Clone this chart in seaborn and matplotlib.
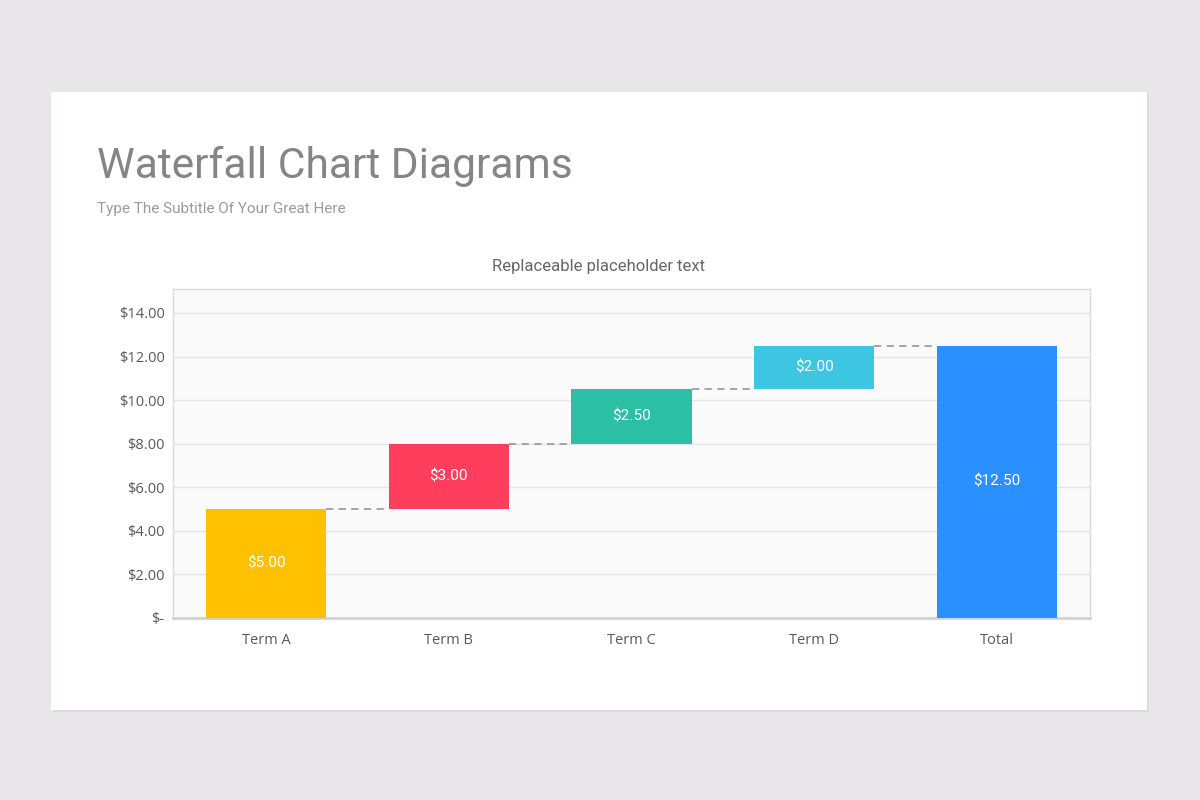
import matplotlib
matplotlib.use("Agg")
import matplotlib.pyplot as plt
from matplotlib.patches import Rectangle
import seaborn as sns
import pandas as pd
import numpy as np

# ---- data ----
categories = ["Term A", "Term B", "Term C", "Term D", "Total"]
values = [5.00, 3.00, 2.50, 2.00, 12.50]
bases = [0.00, 5.00, 8.00, 10.50, 0.00]
bar_colors = ["#FFC000", "#FF3D5D", "#2BBFA6", "#3DC6E2", "#2B90FF"]
ytick_values = [0, 2, 4, 6, 8, 10, 12, 14]
title_text = "Waterfall Chart Diagrams"
subtitle_text = "Type The Subtitle Of Your Great Here"
chart_title = "Replaceable placeholder text"

sns.set_theme(style="white")
plt.rcParams["font.family"] = ["Roboto", "DejaVu Sans"]

fig = plt.figure(figsize=(12, 8), dpi=100)
fig.patch.set_facecolor("#E8E6E8")

# card with faint shadow
fig.add_artist(Rectangle((0.0425 + 0.002, 0.1125 - 0.003), 0.9133, 0.7725,
                         transform=fig.transFigure, facecolor="#DCDADC",
                         edgecolor="none", zorder=0))
fig.add_artist(Rectangle((0.0425, 0.1125), 0.9133, 0.7725,
                         transform=fig.transFigure, facecolor="white",
                         edgecolor="none", zorder=0))

fig.text(97 / 1200, 1 - 178 / 800, title_text, fontsize=30.6, color="#858585",
         family="Roboto", ha="left", va="baseline")
fig.text(97 / 1200, 1 - 213 / 800, subtitle_text, fontsize=11, color="#9A9A9A",
         family="Roboto", ha="left", va="baseline")
fig.text(598 / 1200, 1 - 267 / 800, chart_title, fontsize=12, color="#666666",
         family="Roboto", ha="center", va="center")

ax = fig.add_axes([173 / 1200, 1 - 618 / 800, 917 / 1200, 329 / 800])
ax.set_facecolor("#FAFAFA")

df = pd.DataFrame({"cat": categories, "val": values})
sns.barplot(data=df, x="cat", y="val", hue="cat", palette=bar_colors,
            order=categories, hue_order=categories, legend=False,
            width=0.66, saturation=1, ax=ax, zorder=3)

# shift floating bars to their base levels
for patch, b in zip(ax.patches, bases):
    patch.set_y(b)
    patch.set_edgecolor("none")

# connectors & labels
for i, patch in enumerate(ax.patches):
    top = bases[i] + values[i]
    ax.text(patch.get_x() + patch.get_width() / 2, bases[i] + values[i] / 2,
            f"${values[i]:.2f}", ha="center", va="center", color="white",
            fontsize=11, family="Roboto", zorder=5)
    if i < len(ax.patches) - 1:
        nxt = ax.patches[i + 1]
        ax.plot([patch.get_x() + patch.get_width(), nxt.get_x()], [top, top],
                linestyle=(0, (4, 3)), color="#9E9E9E", linewidth=1.3, zorder=4)

ax.set_xlim(-0.51, 4.51)
ax.set_ylim(0, 15.1)
ax.set_yticks(ytick_values)
ax.set_yticklabels(["$-" if v == 0 else f"${v:.2f}" for v in ytick_values])
ax.yaxis.grid(True, color="#E3E3E3", linewidth=1)
ax.set_axisbelow(True)
ax.set_xlabel("")
ax.set_ylabel("")
ax.tick_params(axis="both", length=0, labelsize=10.5, labelcolor="#595959")
ax.tick_params(axis="y", pad=6)
ax.tick_params(axis="x", pad=11)
for lab in ax.get_xticklabels() + ax.get_yticklabels():
    lab.set_family(["Open Sans", "DejaVu Sans"])

for s in ["left", "right", "top"]:
    ax.spines[s].set_color("#DADADA")
    ax.spines[s].set_linewidth(1)
ax.spines["bottom"].set_color("#D2D2D2")
ax.spines["bottom"].set_linewidth(2)

fig.savefig("out.png", dpi=100, facecolor=fig.get_facecolor())
